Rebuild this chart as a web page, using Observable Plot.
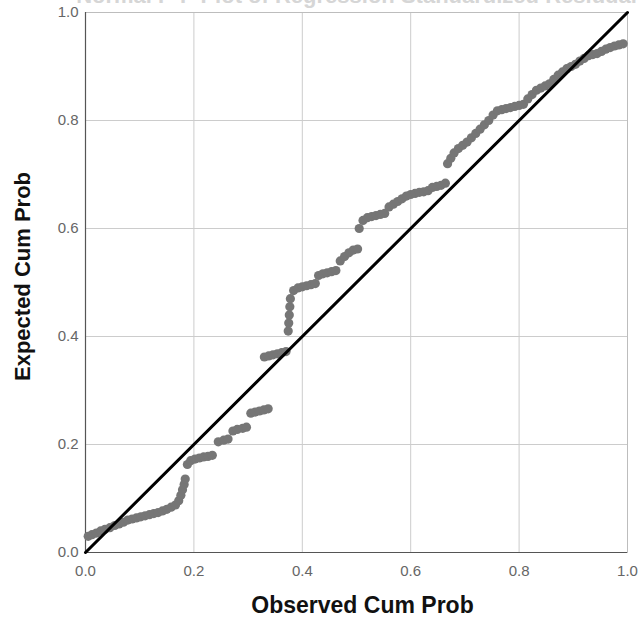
<!DOCTYPE html>
<html>
<head>
<meta charset="utf-8">
<script src="https://cdn.jsdelivr.net/npm/d3@7"></script>
<script src="https://cdn.jsdelivr.net/npm/@observablehq/plot@0.6"></script>
<style>
  html, body { margin: 0; padding: 0; background: #ffffff; }
  #chart svg { display: block; }
</style>
</head>
<body>
<div id="chart"></div>
<script>
const titleText = "Normal P-P Plot of Regression Standardized Residual";
const xLabel = "Observed Cum Prob";
const yLabel = "Expected Cum Prob";
const tickValues = [0, 0.2, 0.4, 0.6, 0.8, 1.0];
const tickLabels = ["0.0", "0.2", "0.4", "0.6", "0.8", "1.0"];

// Observed cumulative probability (x) for each case
const observed = [
  0.005, 0.012, 0.020, 0.028, 0.036, 0.045, 0.054, 0.062,
  0.070, 0.078, 0.086, 0.094, 0.102, 0.110, 0.118, 0.126, 0.134,
  0.142, 0.150, 0.158, 0.166,
  0.172, 0.176, 0.179, 0.182, 0.184,
  0.188, 0.194, 0.202, 0.210, 0.218, 0.226, 0.234,
  0.245, 0.255, 0.263,
  0.272, 0.280, 0.290, 0.297,
  0.305, 0.313, 0.321, 0.329, 0.337,
  0.330, 0.338, 0.346, 0.354, 0.362, 0.370,
  0.374, 0.375, 0.376, 0.377, 0.378,
  0.384, 0.392, 0.400, 0.408, 0.416, 0.424,
  0.430, 0.438, 0.446, 0.454, 0.462,
  0.470, 0.478, 0.486, 0.494, 0.502,
  0.505, 0.512, 0.520, 0.528, 0.536, 0.544, 0.552,
  0.560, 0.568, 0.576, 0.584, 0.592,
  0.600, 0.608, 0.616, 0.624, 0.632,
  0.640, 0.648, 0.656, 0.664,
  0.668, 0.674, 0.680, 0.688, 0.696, 0.704, 0.712, 0.720, 0.728, 0.736, 0.744, 0.752,
  0.760, 0.768, 0.776, 0.784, 0.792, 0.800, 0.808,
  0.816, 0.824, 0.832, 0.840, 0.848, 0.856,
  0.864, 0.872, 0.880, 0.888, 0.896, 0.904,
  0.912, 0.920, 0.928, 0.936, 0.944,
  0.952, 0.960, 0.968, 0.976, 0.984, 0.992
];

// Expected cumulative probability (y) for each case
const expected = [
  0.030, 0.033, 0.036, 0.040, 0.043, 0.046, 0.050, 0.053,
  0.056, 0.060, 0.062, 0.064, 0.066, 0.068, 0.070, 0.072, 0.074,
  0.077, 0.080, 0.084, 0.088,
  0.096, 0.106, 0.116, 0.126, 0.136,
  0.163, 0.170, 0.173, 0.175, 0.177, 0.178, 0.180,
  0.205, 0.208, 0.210,
  0.225, 0.228, 0.230, 0.232,
  0.258, 0.260, 0.262, 0.264, 0.266,
  0.362, 0.364, 0.366, 0.368, 0.370, 0.372,
  0.410, 0.425, 0.440, 0.455, 0.470,
  0.485, 0.490, 0.492, 0.494, 0.496, 0.498,
  0.513, 0.516, 0.518, 0.520, 0.522,
  0.540, 0.548, 0.555, 0.560, 0.562,
  0.600, 0.615, 0.620, 0.622, 0.624, 0.626, 0.628,
  0.640, 0.645, 0.650, 0.655, 0.660,
  0.663, 0.665, 0.667, 0.668, 0.670,
  0.676, 0.678, 0.680, 0.684,
  0.720, 0.730, 0.740, 0.748, 0.754, 0.760, 0.768, 0.776, 0.784, 0.792, 0.800, 0.810,
  0.818, 0.820, 0.822, 0.824, 0.826, 0.828, 0.830,
  0.840, 0.848, 0.856, 0.860, 0.864, 0.868,
  0.876, 0.884, 0.890, 0.896, 0.900, 0.904,
  0.910, 0.915, 0.920, 0.922, 0.924,
  0.928, 0.932, 0.935, 0.938, 0.940, 0.942
];

// Reference line endpoints
const refLineX = [0, 1];
const refLineY = [0, 1];

const points = observed.map((x, i) => ({x, y: expected[i]}));
const refLine = refLineX.map((x, i) => ({x, y: refLineY[i]}));
const fmt = d => tickLabels[tickValues.indexOf(d)];

const chart = Plot.plot({
  width: 642,
  height: 631,
  marginLeft: 85,
  marginRight: 15,
  marginTop: 12,
  marginBottom: 79,
  style: {fontFamily: "Liberation Sans, Arial, sans-serif", background: "#ffffff"},
  x: {domain: [0, 1]},
  y: {domain: [0, 1]},
  marks: [
    Plot.text([titleText], {frameAnchor: "top", dy: -25, fontSize: 22, fontWeight: "bold", fill: "#d6d6d6"}),
    Plot.gridX(tickValues.slice(1, -1), {stroke: "#cccccc", strokeOpacity: 1, strokeWidth: 1}),
    Plot.gridY(tickValues.slice(1, -1), {stroke: "#cccccc", strokeOpacity: 1, strokeWidth: 1}),
    Plot.frame({stroke: "#bdbdbd"}),
    Plot.ruleX([0], {stroke: "#555555", strokeWidth: 1.2}),
    Plot.ruleY([0], {stroke: "#555555", strokeWidth: 1.2}),
    Plot.axisX(tickValues, {tickSize: 0, tickPadding: 13, fontSize: 15, fill: "#666666", tickFormat: fmt, label: null}),
    Plot.axisY(tickValues, {tickSize: 0, tickPadding: 7, fontSize: 15, fill: "#666666", tickFormat: fmt, label: null}),
    Plot.dot(points, {x: "x", y: "y", r: 4.6, fill: "#767676", stroke: "none"}),
    Plot.line(refLine, {x: "x", y: "y", stroke: "#000000", strokeWidth: 3}),
    Plot.text([xLabel], {frameAnchor: "bottom", dx: 6, dy: 60, fontSize: 23, fontWeight: "bold", fill: "#111111"}),
    Plot.text([yLabel], {frameAnchor: "left", dx: -63, dy: -6, rotate: -90, textAnchor: "middle", fontSize: 22, fontWeight: "bold", fill: "#111111"})
  ]
});
document.getElementById("chart").appendChild(chart);
</script>
</body>
</html>
